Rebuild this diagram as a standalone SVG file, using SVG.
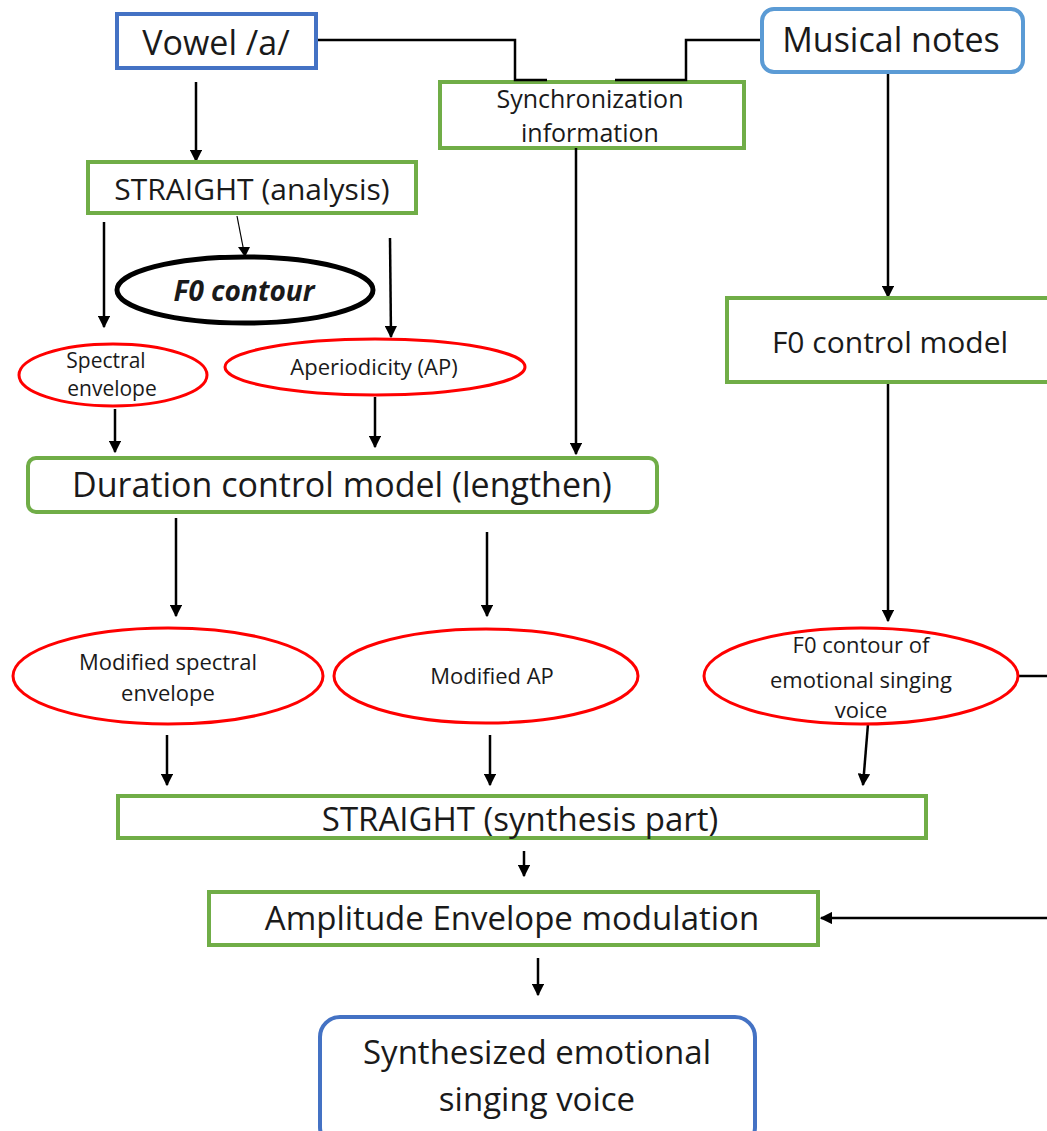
<svg xmlns="http://www.w3.org/2000/svg" width="1047" height="1131" viewBox="0 0 1047 1131">
<defs>
<marker id="ah" viewBox="0 0 10 10" refX="9" refY="5" markerWidth="5" markerHeight="5" orient="auto" markerUnits="strokeWidth">
<path d="M0,0 L10,5 L0,10 z" fill="#000"/>
</marker>
<style>
text{font-family:"Open Sans","Noto Sans","Liberation Sans",sans-serif;fill:#1a1a1a;text-anchor:middle}
.g{fill:#fff;stroke:#70AD47;stroke-width:4}
.b{fill:#fff;stroke:#4472C4;stroke-width:4}
.lb{fill:#fff;stroke:#5B9BD5;stroke-width:4}
.r{fill:#fff;stroke:#FF0000;stroke-width:3}
.k{fill:#fff;stroke:#000;stroke-width:5}
.c{fill:none;stroke:#000;stroke-width:2.5}
.a{fill:none;stroke:#000;stroke-width:2.5;marker-end:url(#ah)}
</style>
</defs>
<rect width="1047" height="1131" fill="#fff"/>

<g id="sync">
<rect class="g" x="440" y="82" width="304" height="66"/>
<text x="590" y="108" font-size="25">Synchronization</text>
<text x="590" y="142" font-size="25">information</text>
</g>

<g id="connectors">
<polyline class="c" points="316,40 515,40 515,80 547,80"/>
<polyline class="c" points="762,40 686,40 686,80 615,80"/>
<line class="a" x1="196" y1="82" x2="196" y2="161"/>
<line class="a" x1="888" y1="72" x2="888" y2="297"/>
<line class="a" x1="576" y1="148" x2="576" y2="454"/>
<line class="a" x1="104" y1="222" x2="104" y2="327"/>
<path d="M237,216 L244,252" stroke="#000" stroke-width="1.2" fill="none"/>
<path d="M238,247 L250,247 L245,257 z" fill="#000"/>
<line class="a" x1="390" y1="238" x2="391" y2="337"/>
<line class="a" x1="115" y1="409" x2="115" y2="452"/>
<line class="a" x1="375" y1="397" x2="375" y2="447"/>
<line class="a" x1="888" y1="382" x2="888" y2="621"/>
<line class="a" x1="176" y1="518" x2="176" y2="616"/>
<line class="a" x1="487" y1="532" x2="487" y2="616"/>
<line class="a" x1="167" y1="735" x2="167" y2="785"/>
<line class="a" x1="490" y1="735" x2="490" y2="785"/>
<line class="a" x1="868" y1="724" x2="863" y2="785"/>
<line class="c" x1="1018" y1="676" x2="1047" y2="676"/>
<line class="a" x1="524" y1="851" x2="524" y2="876"/>
<line class="a" x1="1047" y1="918" x2="821" y2="918"/>
<line class="a" x1="538" y1="958" x2="538" y2="995"/>
</g>

<g id="vowel">
<rect class="b" x="117" y="14" width="199" height="54"/>
<text x="216" y="55" font-size="34">Vowel /a/</text>
</g>

<g id="musical">
<rect class="lb" x="762" y="9" width="261" height="63" rx="12"/>
<text x="891" y="52" font-size="34">Musical notes</text>
</g>

<g id="straight-analysis">
<rect class="g" x="88" y="162" width="328" height="51"/>
<text x="252" y="200" font-size="30">STRAIGHT (analysis)</text>
</g>

<g id="f0contour">
<ellipse class="k" cx="245" cy="290" rx="128" ry="33"/>
<text x="244" y="301" font-size="28" font-style="italic" font-weight="bold" fill="#000">F0 contour</text>
</g>

<g id="spectral">
<ellipse class="r" cx="113" cy="375" rx="94" ry="31"/>
<text x="106" y="368" font-size="21">Spectral</text>
<text x="112" y="396" font-size="21">envelope</text>
</g>

<g id="aperiodicity">
<ellipse class="r" cx="375" cy="367" rx="150" ry="28"/>
<text x="374" y="375" font-size="22">Aperiodicity (AP)</text>
</g>

<g id="duration">
<rect class="g" x="28" y="458" width="629" height="54" rx="8"/>
<text x="342" y="497" font-size="34">Duration control model (lengthen)</text>
</g>

<g id="f0control">
<rect class="g" x="727" y="298" width="330" height="84"/>
<text x="890" y="353" font-size="30">F0 control model</text>
</g>

<g id="modspectral">
<ellipse class="r" cx="168" cy="676" rx="155" ry="48"/>
<text x="168" y="670" font-size="22">Modified spectral</text>
<text x="168" y="701" font-size="22">envelope</text>
</g>

<g id="modap">
<ellipse class="r" cx="486" cy="676" rx="152" ry="47"/>
<text x="492" y="684" font-size="22">Modified AP</text>
</g>

<g id="f0emotional">
<ellipse class="r" cx="861" cy="676" rx="157" ry="48"/>
<text x="861" y="653" font-size="22">F0 contour of</text>
<text x="861" y="688" font-size="22">emotional singing</text>
<text x="861" y="718" font-size="22">voice</text>
</g>

<g id="straight-synthesis">
<rect class="g" x="118" y="796" width="808" height="42"/>
<text x="520" y="831" font-size="33">STRAIGHT (synthesis part)</text>
</g>

<g id="amplitude">
<rect class="g" x="209" y="892" width="609" height="53"/>
<text x="512" y="930" font-size="33">Amplitude Envelope modulation</text>
</g>

<g id="output">
<rect class="b" x="320" y="1017" width="435" height="130" rx="20"/>
<text x="537" y="1064" font-size="33">Synthesized emotional</text>
<text x="537" y="1111" font-size="33">singing voice</text>
</g>
</svg>
